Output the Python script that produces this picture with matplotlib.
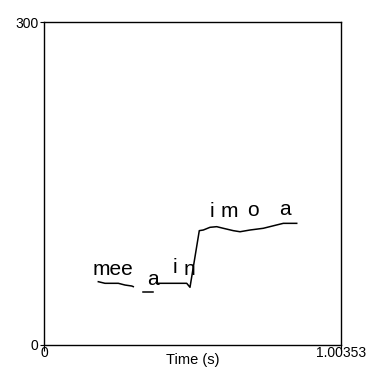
import matplotlib
matplotlib.use("Agg")
import matplotlib.pyplot as plt

plt.rcParams["font.family"] = ["Liberation Sans", "DejaVu Sans"]

# time axis and pitch range
T_MAX = 1.00353
F_MAX = 300

# pitch contour, three voiced stretches (time s, Hz)
seg1_t = [0.1835, 0.2061, 0.2511, 0.2737, 0.2963, 0.3017]
seg1_f = [58.8, 57.3, 57.3, 55.7, 54.8, 54.2]

seg2_t = [0.3355, 0.3693]
seg2_f = [49.5, 49.5]

seg3_t = [0.3808, 0.4257, 0.4822, 0.4933, 0.5247, 0.5383, 0.5609, 0.5835,
          0.6058, 0.6396, 0.6623, 0.6961, 0.7410, 0.7863, 0.8086, 0.8539]
seg3_f = [57.3, 57.3, 57.3, 53.6, 106.2, 106.8, 109.3, 109.9,
          108.4, 106.2, 105.2, 106.8, 108.4, 111.5, 113.0, 113.0]

# phone labels drawn over the contour
labels = ["mee", "a", "i", "n", "i", "m", "o", "a"]
label_t = [0.2315, 0.3666, 0.4426, 0.490, 0.5666, 0.625, 0.706, 0.814]
label_f = [65.0, 55.7, 66.9, 65.0, 118.9, 118.9, 119.8, 120.7]

fig = plt.figure(figsize=(3.70, 3.74), dpi=100)
ax = fig.add_axes([44 / 370, 29 / 374, 297 / 370, 323 / 374])

for t, f in [(seg1_t, seg1_f), (seg2_t, seg2_f), (seg3_t, seg3_f)]:
    ax.plot(t, f, color="black", lw=1.1)

for s, t, f in zip(labels, label_t, label_f):
    ax.text(t, f, s, ha="center", va="baseline", fontsize=15)

ax.set_xlim(0, T_MAX)
ax.set_ylim(0, F_MAX)
ax.set_xticks([0, T_MAX])
ax.set_xticklabels(["0", "1.00353"])
ax.set_yticks([0, F_MAX])
ax.set_yticklabels(["0", "300"])
ax.tick_params(axis="x", length=4, pad=-3, labelsize=10)
ax.tick_params(axis="y", length=3, pad=1, labelsize=10)
ax.set_xlabel("Time (s)", fontsize=10.5, labelpad=-5)
for sp in ax.spines.values():
    sp.set_linewidth(1.0)

fig.savefig("out.png", dpi=100)
